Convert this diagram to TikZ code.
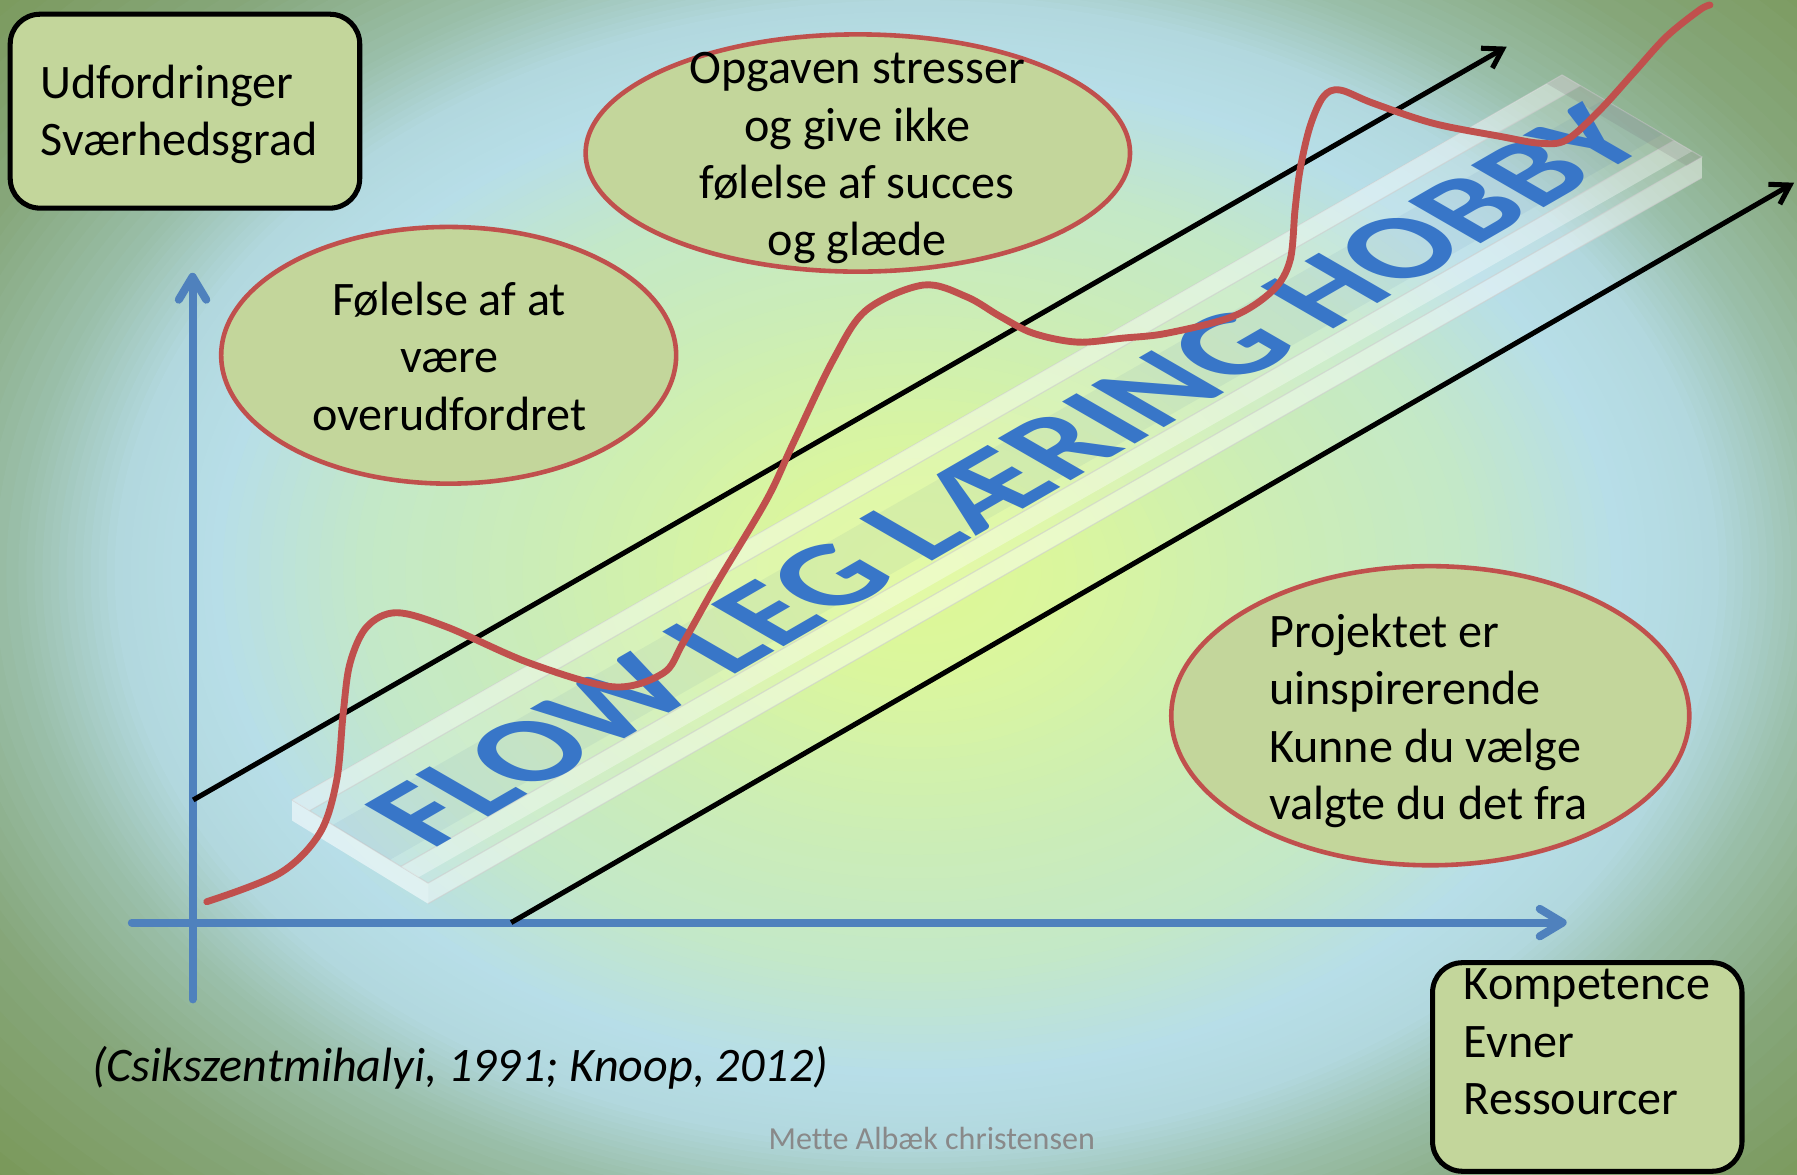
\documentclass[tikz,border=0pt]{standalone}
\usepackage{fontspec}
\setmainfont{Carlito}
\usetikzlibrary{shapes.geometric,arrows.meta,calc}
\definecolor{bg0}{RGB}{222,248,150}
\definecolor{bg1}{RGB}{218,246,158}
\definecolor{bg2}{RGB}{205,238,180}
\definecolor{bg3}{RGB}{195,232,200}
\definecolor{bg4}{RGB}{183,222,232}
\definecolor{bg5}{RGB}{178,216,222}
\definecolor{bg6}{RGB}{155,192,172}
\definecolor{bg7}{RGB}{135,168,125}
\definecolor{bg8}{RGB}{120,150,85}
\definecolor{boxgreen}{RGB}{195,214,155}
\definecolor{ovalred}{RGB}{192,80,77}
\definecolor{axisblue}{RGB}{79,129,189}
\definecolor{flowblue}{RGB}{56,118,200}
\definecolor{flowdark}{RGB}{30,80,150}
\definecolor{footgray}{RGB}{137,137,137}
\tikzset{
 axisarrow/.style={axisblue, line width=3.5pt, line cap=round, -{Straight Barb[length=10pt,width=12pt,round]}},
 blackarrow/.style={black, line width=2.2pt, -{Straight Barb[length=8pt,width=10pt]}},
 flowcurve/.style={ovalred, line width=3pt, line cap=round, line join=round},
 greenbox/.style={draw=black, line width=2.2pt, fill=boxgreen, rounded corners=13pt, inner sep=0pt},
 greenoval/.style={ellipse, draw=ovalred, line width=2pt, fill=boxgreen, inner sep=0pt},
 labeltext/.style={font=\fontsize{21}{25}\selectfont, inner sep=0pt, text=black},
 flowtext/.style={font=\fontsize{56.5}{56.5}\selectfont\bfseries, inner sep=0pt, anchor=base west},
 slabline/.style={draw=white!60!gray, draw opacity=.6, line width=.5pt},
}
\begin{document}
\begin{tikzpicture}[x=0.5pt,y=-0.5pt]
\useasboundingbox (0,0) rectangle (1568,1025);
% background: elliptical radial gradient
\begin{scope}
\clip (0,0) rectangle (1568,1025);
\fill[bg8] (0,0) rectangle (1568,1025);
\foreach \ra/\rb/\ca/\cb in {1.6/1.3/bg8/bg7, 1.3/1.12/bg7/bg6, 1.12/1.0/bg6/bg5, 1.0/0.88/bg5/bg4, 0.88/0.7/bg4/bg3, 0.7/0.45/bg3/bg2, 0.45/0.2/bg2/bg1, 0.2/0.02/bg1/bg0} {
  \foreach \i in {0,...,11} {
    \pgfmathsetmacro\rr{\ra-(\ra-\rb)*\i/12}
    \pgfmathtruncatemacro\pp{100*\i/12}
    \fill[\cb!\pp!\ca] (800,500) ellipse [x radius=700*\rr, y radius=500*\rr];
  }
}
\end{scope}
% axes
\coordinate (ybot) at (168,872);
\coordinate (ytop) at (168,238);
\coordinate (xleft) at (115,805);
\coordinate (xright) at (1367,805);
\draw[axisarrow] (ybot) -- (ytop);
\draw[axisarrow] (xleft) -- (xright);
% black arrows
\coordinate (ua) at (168.6,698);
\coordinate (ub) at (1314.7,40.7);
\coordinate (la) at (446,805);
\coordinate (lb) at (1565.5,159.4);
\draw[blackarrow] (ua) -- (ub);
\draw[blackarrow] (la) -- (lb);
% glass slab
\coordinate (sA) at (254.8,698);
\coordinate (sB) at (1363,65.4);
\coordinate (sC) at (1485,137);
\coordinate (sD) at (373.5,770.5);
\fill[white, fill opacity=.45] (sD) -- (sC) -- ($(sC)+(0,18)$) -- ($(sD)+(0,18)$) -- cycle;
\fill[white, fill opacity=.55] (sA) -- (sD) -- ($(sD)+(0,18)$) -- ($(sA)+(0,18)$) -- cycle;
\draw[slabline] ($(sD)+(0,18)$) -- ($(sC)+(0,18)$);
\fill[white, fill opacity=.15] (sA) -- (sB) -- (sC) -- (sD) -- cycle;
\draw[slabline] (sA) -- (sB) -- (sC) -- (sD) -- cycle;
\fill[white, fill opacity=.35] (sA) -- (sB) -- ($(sB)!0.13!(sC)$) -- ($(sA)!0.13!(sD)$) -- cycle;
\fill[white, fill opacity=.35] ($(sA)!0.80!(sD)$) -- ($(sB)!0.80!(sC)$) -- ($(sB)!0.93!(sC)$) -- ($(sA)!0.93!(sD)$) -- cycle;
\draw[slabline] ($(sA)!0.80!(sD)$) -- ($(sB)!0.80!(sC)$);
\draw[slabline] ($(sA)!0.13!(sD)$) -- ($(sB)!0.13!(sC)$);
\fill[gray, fill opacity=.22] (sB) -- (sC) -- ($(sC)!0.012!(sD)$) -- ($(sB)!0.012!(sA)$) -- cycle;
% soft shadow strip under the lettering
\fill[flowdark, fill opacity=.06] ($(sA)!0.30!(sD)$) -- ($(sB)!0.30!(sC)$) -- ($(sB)!0.72!(sC)$) -- ($(sA)!0.72!(sD)$) -- cycle;
% slab text
\begin{scope}[shift={(376,742)}, cm={0.866,0.5,-0.866,0.5,(0,0)}, transform shape]
\node[flowtext, text=flowblue] (flow) at (0,0) {FLOW LEG LÆRING HOBBY};
\end{scope}
% red curve
\draw[flowcurve] plot[smooth, tension=0.55] coordinates {(180.4,786.8) (244,762) (279,727) (293.8,680.6) (299.5,622) (305.4,578.7) (320,547) (346,534.6) (389.8,547) (462.5,578.7) (535,599.3) (578.6,587.4) (596,561) (625.4,509) (669,436) (692,387) (727,314) (756,270.5) (805.7,248.7) (843.5,259) (872.6,276) (901.6,290.8) (940,298.5) (980,295) (1018,290.8) (1076,276) (1111,253) (1125.7,227) (1130,183) (1134.4,148) (1143,110.5) (1154.7,84.4) (1169,78.5) (1198,90) (1250.6,107.6) (1309,119) (1344,125) (1367,122) (1396,96) (1425,64) (1454,32) (1483,8.7) (1492,4.4)};
% boxes
\node[greenbox, minimum width=152.5pt, minimum height=84.6pt] (chal) at (161.4,97) {};
\node[labeltext, anchor=west, align=left] (chaltext) at (35,100) {Udfordringer\\Sværhedsgrad};
\node[greenbox, minimum width=135pt, minimum height=91pt] (comp) at (1385,931) {};
\node[labeltext, anchor=west, align=left] (comptext) at (1277,909) {Kompetence\\Evner\\Ressourcer};
% ovals
\node[greenoval, minimum width=198.5pt, minimum height=112pt] (over) at (391.5,310) {};
\node[labeltext, align=center] (overtext) at (392,311) {Følelse af at\\være\\overudfordret};
\node[greenoval, minimum width=237.5pt, minimum height=103.5pt] (stress) at (748.5,133.5) {};
\node[labeltext, align=center] (stresstext) at (748,138) {Opgaven stresser\\og give ikke\\følelse af succes\\og glæde};
\node[greenoval, minimum width=226pt, minimum height=130.5pt] (bore) at (1248,624.5) {};
\node[labeltext, anchor=west, align=left] (boretext) at (1107,629) {Projektet er\\uinspirerende\\Kunne du vælge\\valgte du det fra};
% citation and footer
\node[labeltext, anchor=west, font=\fontsize{21}{25}\selectfont\itshape] (cite) at (80,932) {(Csikszentmihalyi, 1991; Knoop, 2012)};
\node[inner sep=0pt, text=footgray, font=\fontsize{14}{16}\selectfont\addfontfeature{Ligatures=NoCommon}] (author) at (813,993) {Mette Albæk christensen};
\end{tikzpicture}
\end{document}
